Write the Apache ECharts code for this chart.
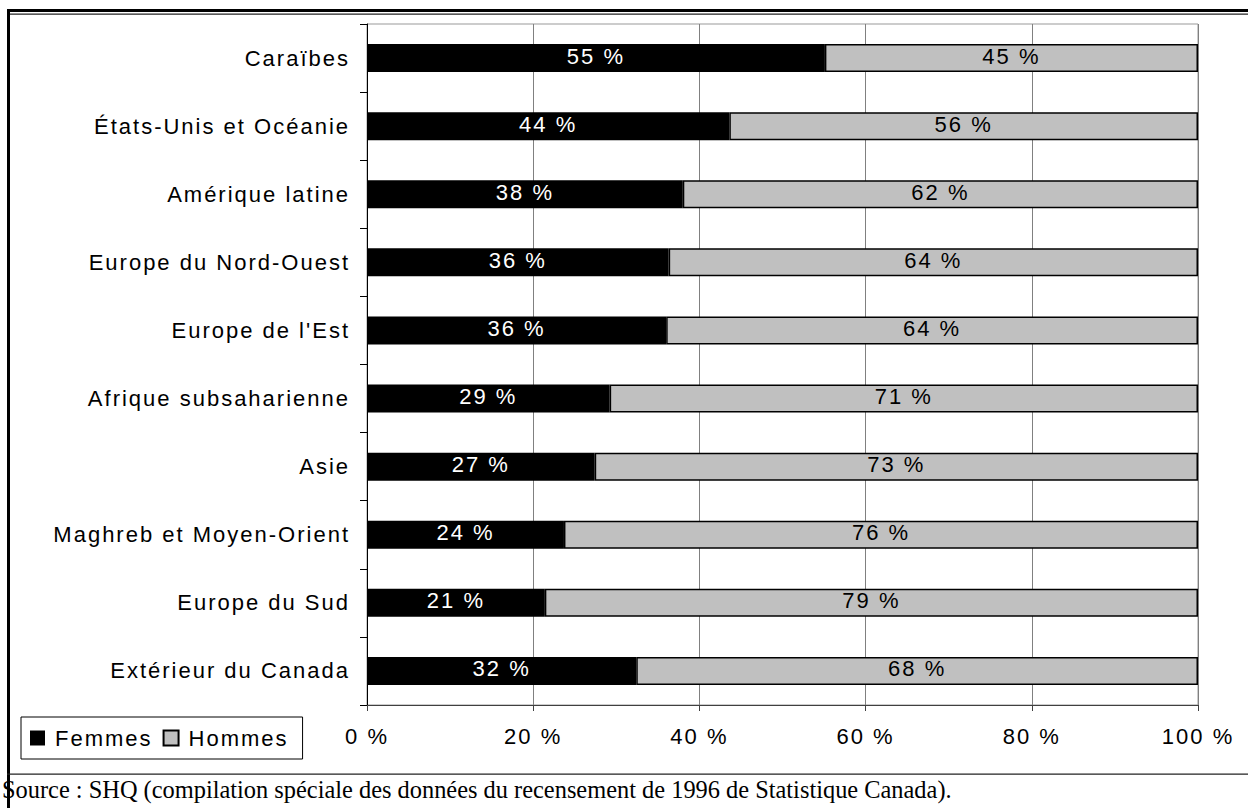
<!DOCTYPE html>
<html>
<head>
<meta charset="utf-8">
<script src="https://cdn.jsdelivr.net/npm/echarts@6/dist/echarts.min.js"></script>
<style>
  html, body { margin: 0; padding: 0; background: #fff; }
  #chart { width: 1248px; height: 808px; }
  #chart text { letter-spacing: 2px; }
  #chart text[style*="Serif"], #chart text[font-family*="Serif"] { letter-spacing: 0; }
</style>
</head>
<body>
<div id="chart"></div>
<script>
const categories = ['Caraïbes', 'États-Unis et Océanie', 'Amérique latine', 'Europe du Nord-Ouest', "Europe de l'Est", 'Afrique subsaharienne', 'Asie', 'Maghreb et Moyen-Orient', 'Europe du Sud', 'Extérieur du Canada'];
const femmes = [55.1, 43.6, 38.0, 36.3, 36.0, 29.2, 27.4, 23.7, 21.4, 32.4];
const hommes = [44.9, 56.4, 62.0, 63.7, 64.0, 70.8, 72.6, 76.3, 78.6, 67.6];
const seriesNames = ['Femmes', 'Hommes'];
const xTicks = [0, 20, 40, 60, 80, 100];
const sourceText = 'Source : SHQ (compilation spéciale des données du recensement de 1996 de Statistique Canada).';

const SANS = '"Liberation Sans", Arial, sans-serif';
const chart = echarts.init(document.getElementById('chart'), null, { renderer: 'svg' });

const labelFmt = p => Math.round(p.value) + ' %';

chart.setOption({
  animation: false,
  backgroundColor: '#fff',
  textStyle: { fontFamily: SANS },
  grid: {
    left: 367, right: 50, top: 24, bottom: 103,
    show: true, borderColor: '#999', borderWidth: 1, backgroundColor: 'transparent'
  },
  legend: {
    data: seriesNames,
    left: 21, top: 717,
    orient: 'horizontal',
    padding: [10, 26, 10, 9],
    itemGap: 22,
    itemWidth: 15, itemHeight: 15,
    icon: 'rect',
    borderColor: '#000', borderWidth: 1,
    textStyle: { fontSize: 22, color: '#000', fontFamily: SANS, padding: [0, 0, 0, 5] }
  },
  xAxis: {
    type: 'value', min: xTicks[0], max: xTicks[xTicks.length - 1], interval: 20,
    axisLine: { show: true, lineStyle: { color: '#404040', width: 1 } },
    axisTick: { show: true, length: 6, lineStyle: { color: '#404040' } },
    axisLabel: { formatter: v => v + ' %', fontSize: 22, color: '#000', margin: 20, fontFamily: SANS },
    splitLine: { show: true, lineStyle: { color: '#808080', width: 1 } }
  },
  yAxis: {
    type: 'category', data: categories, inverse: true,
    axisLine: { show: true, lineStyle: { color: '#000', width: 1 } },
    axisTick: { show: true, length: 7, inside: false, lineStyle: { color: '#000' } },
    axisLabel: { fontSize: 22, color: '#000', margin: 17, fontFamily: SANS },
    splitLine: { show: false }
  },
  series: [
    {
      name: seriesNames[0], type: 'bar', stack: 'total', data: femmes, barWidth: 28,
      itemStyle: { color: '#000', borderColor: '#000', borderWidth: 0 },
      label: { show: true, position: 'inside', formatter: labelFmt, color: '#fff', fontSize: 22, fontFamily: SANS, offset: [0, -2] }
    },
    {
      name: seriesNames[1], type: 'bar', stack: 'total', data: hommes, barWidth: 28,
      itemStyle: { color: '#c0c0c0', borderColor: '#000', borderWidth: 1.5 },
      label: { show: true, position: 'inside', formatter: labelFmt, color: '#000', fontSize: 22, fontFamily: SANS, offset: [0, -2] }
    }
  ],
  graphic: [
    { type: 'rect', shape: { x: 7, y: 9, width: 1241, height: 3 }, style: { fill: '#000' }, silent: true },
    { type: 'rect', shape: { x: 7, y: 13.5, width: 1241, height: 1.3 }, style: { fill: '#222' }, silent: true },
    { type: 'rect', shape: { x: 7, y: 9, width: 3, height: 799 }, style: { fill: '#000' }, silent: true },
    { type: 'rect', shape: { x: 7, y: 773.5, width: 1241, height: 1.3 }, style: { fill: '#222' }, silent: true },
    { type: 'text', x: 2, y: 789, style: { text: sourceText, font: '24.4px "Liberation Serif", "Times New Roman", serif', fill: '#000', verticalAlign: 'middle', align: 'left' }, silent: true }
  ]
});
</script>
</body>
</html>
